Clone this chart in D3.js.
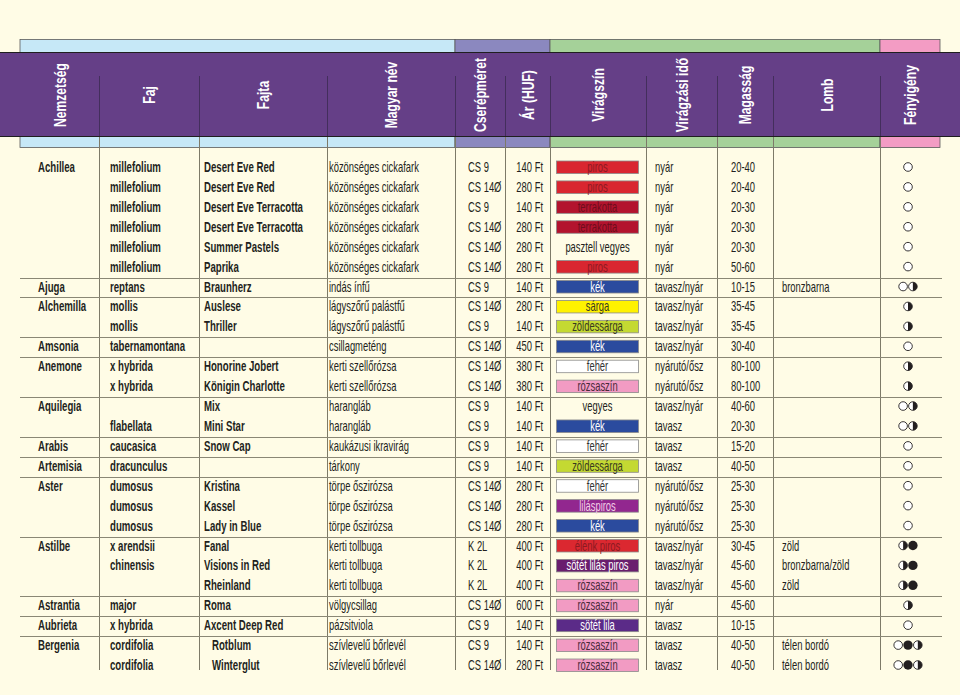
<!DOCTYPE html>
<html><head><meta charset="utf-8">
<script src="https://cdn.jsdelivr.net/npm/d3@7"></script>
<style>
html,body{margin:0;padding:0;background:#fffce6;}
svg{display:block;}
text{font-family:"Liberation Sans",Arial,sans-serif;}
</style></head>
<body>
<svg id="chart" width="960" height="695"></svg>
<script>
const headers = ["Nemzetség","Faj","Fajta","Magyar név","Cserépméret","Ár (HUF)","Virágszín","Virágzási idő","Magasság","Lomb","Fényigény"];
const genus = ["Achillea","","","","","","Ajuga","Alchemilla","","Amsonia","Anemone","","Aquilegia","","Arabis","Artemisia","Aster","","","Astilbe","","","Astrantia","Aubrieta","Bergenia",""];
const species = ["millefolium","millefolium","millefolium","millefolium","millefolium","millefolium","reptans","mollis","mollis","tabernamontana","x hybrida","x hybrida","","flabellata","caucasica","dracunculus","dumosus","dumosus","dumosus","x arendsii","chinensis","","major","x hybrida","cordifolia","cordifolia"];
const cultivar = ["Desert Eve Red","Desert Eve Red","Desert Eve Terracotta","Desert Eve Terracotta","Summer Pastels","Paprika","Braunherz","Auslese","Thriller","","Honorine Jobert","Königin Charlotte","Mix","Mini Star","Snow Cap","","Kristina","Kassel","Lady in Blue","Fanal","Visions in Red","Rheinland","Roma","Axcent Deep Red","Rotblum","Winterglut"];
const hungarianName = ["közönséges cickafark","közönséges cickafark","közönséges cickafark","közönséges cickafark","közönséges cickafark","közönséges cickafark","indás ínfű","lágyszőrű palástfű","lágyszőrű palástfű","csillagmeténg","kerti szellőrózsa","kerti szellőrózsa","harangláb","harangláb","kaukázusi ikravirág","tárkony","törpe őszirózsa","törpe őszirózsa","törpe őszirózsa","kerti tollbuga","kerti tollbuga","kerti tollbuga","völgycsillag","pázsitviola","szívlevelű bőrlevél","szívlevelű bőrlevél"];
const potSize = ["CS 9","CS 14Ø","CS 9","CS 14Ø","CS 14Ø","CS 14Ø","CS 9","CS 14Ø","CS 9","CS 14Ø","CS 14Ø","CS 14Ø","CS 9","CS 9","CS 9","CS 9","CS 14Ø","CS 14Ø","CS 14Ø","K 2L","K 2L","K 2L","CS 14Ø","CS 9","CS 9","CS 14Ø"];
const price = [140,280,140,280,280,280,140,280,140,450,380,380,140,140,140,140,280,280,280,400,400,400,600,140,140,280];
const flowerColor = ["piros","piros","terrakotta","terrakotta","pasztell vegyes","piros","kék","sárga","zöldessárga","kék","fehér","rózsaszín","vegyes","kék","fehér","zöldessárga","fehér","liláspiros","kék","élénk piros","sötét lilás piros","rózsaszín","rózsaszín","sötét lila","rózsaszín","rózsaszín"];
const bloomTime = ["nyár","nyár","nyár","nyár","nyár","nyár","tavasz/nyár","tavasz/nyár","tavasz/nyár","tavasz/nyár","nyárutó/ősz","nyárutó/ősz","tavasz/nyár","tavasz","tavasz","tavasz","nyárutó/ősz","nyárutó/ősz","nyárutó/ősz","tavasz/nyár","tavasz/nyár","tavasz/nyár","nyár","tavasz","tavasz","tavasz"];
const plantHeight = ["20-40","20-40","20-30","20-30","20-30","50-60","10-15","35-45","35-45","30-40","80-100","80-100","40-60","20-30","15-20","40-50","25-30","25-30","25-30","30-45","45-60","45-60","45-60","10-15","40-50","40-50"];
const foliage = ["","","","","","","bronzbarna","","","","","","","","","","","","","zöld","bronzbarna/zöld","zöld","","","télen bordó","télen bordó"];
// o = napos (open), h = félárnyék (half), f = árnyék (filled)
const lightNeed = ["o","o","o","o","o","o","oh","h","h","o","h","h","oh","oh","o","o","o","o","o","hf","hf","hf","h","o","ofh","ofh"];

const swatchFill = {"piros":"#d92630","terrakotta":"#b3132e","kék":"#2b4b9e","sárga":"#fff200","zöldessárga":"#c4d932","fehér":"#ffffff","rózsaszín":"#f29bc3","liláspiros":"#92278f","élénk piros":"#db2830","sötét lilás piros":"#6a1e6e","sötét lila":"#5b2b88"};
const swatchText = {"piros":"#8c1a22","terrakotta":"#6e0d1c","kék":"#ffffff","sárga":"#3a3a20","zöldessárga":"#3a3a20","fehér":"#333333","rózsaszín":"#4a2a3a","liláspiros":"#f2cde6","élénk piros":"#8c1a22","sötét lilás piros":"#ffffff","sötét lila":"#ffffff"};

const svg = d3.select("#chart");
const n = genus.length;
const ink = "#231f20";
const y = d3.scalePoint().domain(d3.range(n)).range([167, 665]);
const bounds = [20, 99, 199, 327, 455, 505, 550, 646, 717, 773, 880, 940];
const xCol = d3.scaleOrdinal().domain(d3.range(11)).range(d3.range(11).map(i => bounds[i]));

const fs = 14, fsHead = 17;
// horizontal condensing factors, measured so text widths match the condensed original face
function measure(str, size, weight) {
  const t = svg.append("text").attr("font-size",size).attr("font-weight",weight).text(str);
  const w = t.node().getComputedTextLength(); t.remove(); return w;
}
const sxReg = 90 / measure("közönséges cickafark", fs, "normal");
const sxBold = 99 / measure("Desert Eve Terracotta", fs, "bold");
const sxHead = 64 / measure("Nemzetség", fsHead, "bold");

// top & bottom colour bands
const bands = [[20,455,"#c6e8f7"],[455,550,"#8b88bf"],[550,880,"#a5d199"],[880,940,"#f39cc4"]];
bands.forEach(([a,b,c]) => {
  svg.append("rect").attr("x",a).attr("y",39.5).attr("width",b-a).attr("height",13).attr("fill",c).attr("stroke","#5a5a5a").attr("stroke-width",0.8);
  svg.append("rect").attr("x",a).attr("y",136).attr("width",b-a).attr("height",11.5).attr("fill",c).attr("stroke","#5a5a5a").attr("stroke-width",0.8);
});
// purple header band
svg.append("rect").attr("x",-2).attr("y",52.5).attr("width",964).attr("height",84).attr("fill","#653f87").attr("stroke","#1f1f1f").attr("stroke-width",1);

// vertical separators
for (let i = 1; i < 11; i++) {
  svg.append("line").attr("x1",bounds[i]+0.5).attr("x2",bounds[i]+0.5).attr("y1",76).attr("y2",136)
    .attr("stroke","#3b2a52").attr("stroke-width",0.8);
  svg.append("line").attr("x1",bounds[i]+0.5).attr("x2",bounds[i]+0.5).attr("y1",137).attr("y2",670)
    .attr("stroke","#7d7a68").attr("stroke-width",1);
}

// header labels
headers.forEach((h,i) => {
  const cx = (bounds[i]+bounds[i+1])/2;
  svg.append("text").attr("transform",`translate(${cx},95) rotate(-90) scale(${sxHead},1)`)
    .attr("text-anchor","middle").attr("dy","0.36em")
    .attr("fill","#ffffff").attr("font-weight","bold").attr("font-size",fsHead).text(h);
});

// group separators
const groupStarts = d3.range(1,n).filter(i => genus[i] !== "");
svg.selectAll("line.grp").data(groupStarts).join("line").attr("class","grp")
  .attr("x1",20).attr("x2",942)
  .attr("y1",i => Math.round((y(i-1)+y(i))/2)+1.5).attr("y2",i => Math.round((y(i-1)+y(i))/2)+1.5)
  .attr("stroke","#8a8775").attr("stroke-width",1);

const rows = d3.range(n);
function textCol(arr, colIdx, off, opts={}) {
  const sx = opts.bold ? sxBold : sxReg;
  svg.append("g").selectAll("text").data(rows).join("text")
    .attr("transform", i => `translate(${xCol(colIdx) + off + (opts.indent ? opts.indent(i) : 0)},${y(i)}) scale(${sx},1)`)
    .attr("dy","0.36em")
    .attr("text-anchor", opts.anchor || "start")
    .attr("font-size", fs).attr("font-weight", opts.bold ? "bold" : "normal")
    .attr("fill", ink).text(i => arr[i]);
}
textCol(genus, 0, 18, {bold:true});
textCol(species, 1, 11, {bold:true});
textCol(cultivar, 2, 5, {bold:true, indent: i => genus[i]==="Bergenia"||(i>0&&genus[i-1]==="Bergenia") ? 8 : 0});
textCol(hungarianName, 3, 2);
textCol(potSize, 4, 13);
textCol(price.map(p => p + " Ft"), 5, 38, {anchor:"end"});
textCol(bloomTime, 7, 9);
textCol(plantHeight, 8, 14);
textCol(foliage, 9, 9);

// flower colour swatches
const sw = svg.append("g");
rows.forEach(i => {
  const c = flowerColor[i];
  if (swatchFill[c]) {
    sw.append("rect").attr("x",556.5).attr("y",y(i)-6).attr("width",82).attr("height",12.5)
      .attr("fill",swatchFill[c]).attr("stroke","#8a8a8a").attr("stroke-width",0.8);
  }
  sw.append("text").attr("transform",`translate(597.5,${y(i)}) scale(${sxReg},1)`).attr("dy","0.36em").attr("text-anchor","middle")
    .attr("font-size",fs).attr("fill", swatchText[c] || ink).text(c);
});

// light requirement symbols
const r = 4.3, gap = 9.8;
const lg = svg.append("g");
rows.forEach(i => {
  const syms = lightNeed[i].split("");
  const x0 = 908 - (syms.length-1)*gap/2;
  syms.forEach((s,k) => {
    const cx = x0 + k*gap, cy = y(i);
    if (s === "o") {
      lg.append("circle").attr("cx",cx).attr("cy",cy).attr("r",r).attr("fill","#ffffff").attr("stroke",ink).attr("stroke-width",0.9);
    } else if (s === "f") {
      lg.append("circle").attr("cx",cx).attr("cy",cy).attr("r",r+0.4).attr("fill",ink);
    } else {
      lg.append("circle").attr("cx",cx).attr("cy",cy).attr("r",r).attr("fill","#ffffff").attr("stroke",ink).attr("stroke-width",0.9);
      lg.append("path").attr("d",`M${cx},${cy-r} A${r},${r} 0 0 1 ${cx},${cy+r} Z`).attr("fill",ink);
    }
  });
});
</script>
</body></html>
